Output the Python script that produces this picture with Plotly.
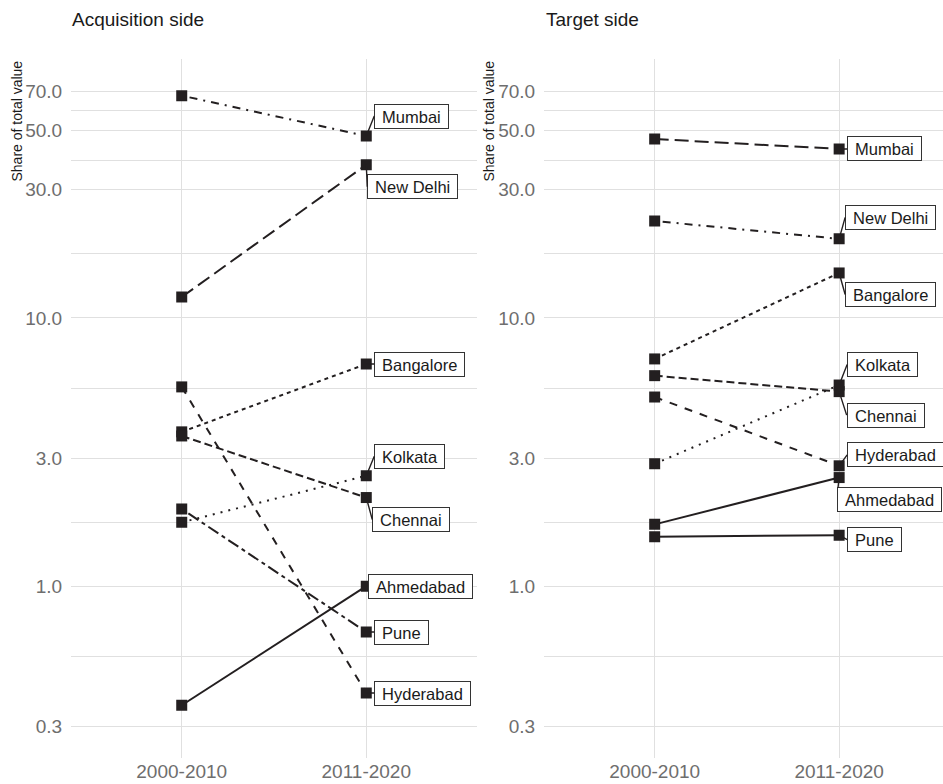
import math
import plotly.graph_objects as go

# ---- data -------------------------------------------------------------
periods = ["2000-2010", "2011-2020"]
cities = ["Mumbai", "New Delhi", "Bangalore", "Chennai",
          "Hyderabad", "Kolkata", "Pune", "Ahmedabad"]

# share of total deal value (%), acquirer side
acq_2000_2010 = [67.3, 11.96, 3.76, 3.63, 5.53, 1.73, 1.94, 0.36]
acq_2011_2020 = [47.6, 37.2, 6.73, 2.14, 0.40, 2.58, 0.675, 1.00]

# share of total deal value (%), target side
tgt_2000_2010 = [46.4, 22.96, 7.03, 6.09, 5.07, 2.86, 1.53, 1.70]
tgt_2011_2020 = [42.6, 19.7, 14.7, 5.31, 2.81, 5.62, 1.55, 2.54]

tick_vals = [0.3, 1, 3, 10, 30, 50, 70]
tick_text = ["0.3", "1.0", "3.0", "10.0", "30.0", "50.0", "70.0"]

# ---- styling ----------------------------------------------------------
INK = "#231F20"
GRID = "#E0E0E0"
FONT = "Liberation Sans, Arial, Helvetica, sans-serif"

DASH = {
    "solid": "solid",
    "22": "4px,4px",
    "42": "8px,4px",
    "44": "8px,8px",
    "13": "2px,6px",
    "1343": "2px,6px,8px,6px",
    "73": "14px,6px",
    "2262": "4px,4px,12px,4px",
}
acq_dash = {"Mumbai": "1343", "New Delhi": "73", "Bangalore": "22", "Chennai": "42",
            "Hyderabad": "44", "Kolkata": "13", "Pune": "2262", "Ahmedabad": "solid"}
tgt_dash = {"Mumbai": "73", "New Delhi": "1343", "Bangalore": "22", "Chennai": "42",
            "Hyderabad": "44", "Kolkata": "13", "Pune": "solid", "Ahmedabad": "solid"}

# label box placement: (left edge offset, vertical centre offset) in px from the point
acq_label_pos = {"Mumbai": (8, -20), "New Delhi": (1, 22), "Bangalore": (8, 0),
                 "Kolkata": (8, -19.5), "Chennai": (6, 22), "Ahmedabad": (1.5, 0),
                 "Pune": (8, 0), "Hyderabad": (8, 0)}
tgt_label_pos = {"Mumbai": (8, 0), "New Delhi": (6, -21.5), "Bangalore": (6, 21.5),
                 "Kolkata": (8, -20.5), "Chennai": (7.5, 23.5), "Hyderabad": (8, -11),
                 "Ahmedabad": (-2.5, 22), "Pune": (8, 4.5)}

W, H = 943, 784
fig = go.Figure()

panels = [
    ("x", "y", acq_2000_2010, acq_2011_2020, acq_dash, acq_label_pos),
    ("x2", "y2", tgt_2000_2010, tgt_2011_2020, tgt_dash, tgt_label_pos),
]

annotations = []
for xa, ya, first, second, dashes, label_pos in panels:
    for i, city in enumerate(cities):
        fig.add_trace(go.Scatter(
            x=periods, y=[first[i], second[i]],
            xaxis=xa, yaxis=ya, mode="lines+markers", name=city,
            line=dict(color=INK, width=2, dash=DASH[dashes[city]]),
            marker=dict(symbol="square", size=11, color=INK),
            showlegend=False, hoverinfo="skip",
        ))
        dx, dy = label_pos[city]
        annotations.append(dict(
            x=periods[1], y=math.log10(second[i]), xref=xa, yref=ya,
            text="\u00a0" + city + "\u00a0", showarrow=True,
            ax=dx, ay=dy, axref="pixel", ayref="pixel",
            xanchor="left", yanchor="middle",
            arrowhead=0, arrowwidth=1.4, arrowcolor=INK, standoff=0,
            bgcolor="white", bordercolor="#333333", borderwidth=1, borderpad=2.5,
            font=dict(family=FONT, size=16.5, color="#1A1A1A"),
        ))

# panel titles
annotations.append(dict(text="Acquisition side", x=70 / W, y=1 - 19 / H, xref="paper", yref="paper",
                        xanchor="left", yanchor="middle", showarrow=False,
                        font=dict(family=FONT, size=19, color="#1A1A1A")))
annotations.append(dict(text="Target side", x=544 / W, y=1 - 19 / H, xref="paper", yref="paper",
                        xanchor="left", yanchor="middle", showarrow=False,
                        font=dict(family=FONT, size=19, color="#1A1A1A")))
# y-axis titles, aligned to the top of each panel
for xpos in (16.5, 488.5):
    annotations.append(dict(text="Share of total value", x=xpos / W, y=1 - 121 / H,
                            xref="paper", yref="paper", xanchor="center", yanchor="middle",
                            textangle=-90, showarrow=False,
                            font=dict(family=FONT, size=14, color="#1A1A1A")))

# log scale limited to 0.3..70 with 5% padding
lo, hi = math.log10(0.3), math.log10(70)
pad = 0.05 * (hi - lo)
y_range = [lo - pad, hi + pad]
minor_vals = [math.sqrt(a * b) for a, b in zip(tick_vals[:-1], tick_vals[1:])]

y_dom = [(H - 758.3) / H, (H - 59.3) / H]
yaxis_common = dict(
    type="log", range=y_range, domain=y_dom,
    tickmode="array", tickvals=tick_vals, ticktext=tick_text,
    showgrid=True, gridcolor=GRID, gridwidth=1.2,
    minor=dict(tickmode="array", tickvals=minor_vals, showgrid=True,
               gridcolor=GRID, gridwidth=1.0, ticks=""),
    zeroline=False, showline=False,
    ticks="outside", ticklen=4, tickcolor="rgba(0,0,0,0)",
    tickfont=dict(family=FONT, size=19, color="#6E6E6E"),
    automargin=False, fixedrange=True,
)
xaxis_common = dict(
    type="category", categoryorder="array", categoryarray=periods,
    showgrid=True, gridcolor=GRID, gridwidth=1.2,
    zeroline=False, showline=False,
    ticks="", ticklen=0,
    tickfont=dict(family=FONT, size=19, color="#6E6E6E"),
    automargin=False, fixedrange=True,
)

fig.update_layout(
    width=W, height=H,
    margin=dict(l=0, r=0, t=0, b=0),
    paper_bgcolor="white", plot_bgcolor="white",
    xaxis=dict(xaxis_common, domain=[71 / W, 477 / W], range=[-0.6, 1.6], anchor="y"),
    yaxis=dict(yaxis_common, anchor="x"),
    xaxis2=dict(xaxis_common, domain=[544 / W, 1.0], range=[-0.6, 1.563], anchor="y2"),
    yaxis2=dict(yaxis_common, anchor="x2"),
    annotations=annotations,
    font=dict(family=FONT),
)

fig.write_html("out.html")
